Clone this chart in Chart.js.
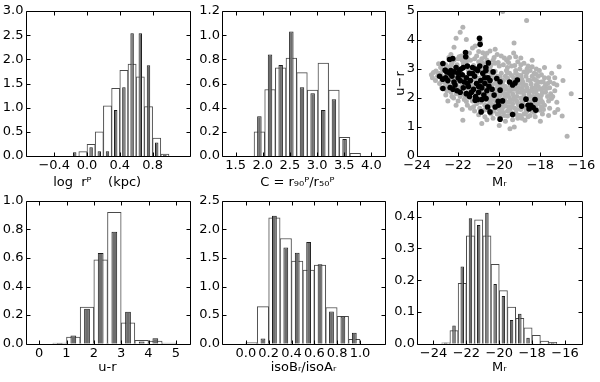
<!DOCTYPE html>
<html>
<head>
<meta charset="utf-8">
<script src="https://cdn.jsdelivr.net/npm/chart.js@4.4.0/dist/chart.umd.min.js"></script>
<style>
body{margin:0;background:#fff;width:600px;height:382px;position:relative;overflow:hidden}
canvas{position:absolute}
</style>
</head>
<body>
<canvas id="p1" width="200" height="191" style="left:0;top:0"></canvas>
<canvas id="p2" width="210" height="191" style="left:190px;top:0"></canvas>
<canvas id="p3" width="215" height="191" style="left:385px;top:0"></canvas>
<canvas id="p4" width="200" height="191" style="left:0;top:191px"></canvas>
<canvas id="p5" width="210" height="191" style="left:190px;top:191px"></canvas>
<canvas id="p6" width="215" height="191" style="left:385px;top:191px"></canvas>
<script>
// log r^P histogram
const rBins  = [-0.15,-0.05,0.05,0.15,0.25,0.35,0.45,0.55,0.65,0.75,0.85,0.95];
const rWhite = [0,0.09,0.24,0.5,1.04,1.4,1.77,1.9,1.64,1.02,0.37,0.04];
const rGray  = [0.08,0,0.18,0.1,0.1,0.95,1.42,2.54,2.54,1.88,0.28,0.02];
const rXTicks = [-0.4,0.0,0.4,0.8];
const rYTicks = [0,0.5,1.0,1.5,2.0,2.5,3.0];

// concentration histogram
const cBins  = [1.938,2.134,2.33,2.526,2.722,2.918,3.114,3.31,3.506,3.702];
const cWhite = [0.2,0.55,0.73,0.81,0.69,0.546,0.77,0.546,0.155,0.022];
const cGray  = [0.33,0.84,0.753,1.03,0.57,0.52,0.38,0.47,0.14,0];
const cXTicks = [1.5,2.0,2.5,3.0,3.5,4.0];
const cYTicks = [0,0.2,0.4,0.6,0.8,1.0,1.2];

// colour-magnitude scatter
const cmGray = [
[-19.83,4.98],[-18.67,4.67],[-21.77,4.44],[-21.9,4.27],[-22.1,4.06],[-21.6,4.02],[-20.93,3.97],[-21.17,3.79],
[-21.3,3.72],[-21.0,3.6],[-20.8,3.56],[-20.6,3.54],[-20.2,3.68],[-20.1,3.5],[-19.28,3.9],[-19.64,3.3],
[-19.9,3.45],[-20.45,3.62],[-21.45,3.55],[-22.2,3.75],[-22.35,3.5],[-21.85,3.45],[-20.7,3.42],[-19.5,3.4],
[-19.1,3.25],[-18.8,3.2],[-19.3,3.55],[-20.3,3.3],
[-23.08,2.93],[-22.95,2.85],[-23.2,2.88],[-22.85,3.05],[-22.7,2.7],[-22.6,3.15],[-22.45,3.05],[-22.8,2.6],
[-22.5,2.5],[-22.65,2.4],[-22.3,3.2],[-22.2,3.3],[-22.0,3.35],[-21.8,3.3],[-21.6,3.25],[-21.4,3.3],
[-21.2,3.35],[-21.0,3.25],[-20.8,3.2],[-20.6,3.3],[-20.4,3.15],[-20.2,3.2],[-20.0,3.1],[-19.8,3.15],
[-19.6,3.05],[-19.4,3.1],[-19.2,2.95],[-19.0,3.0],[-18.8,2.9],[-18.5,2.95],[-18.3,2.85],[-18.1,2.75],
[-17.86,2.56],[-17.54,2.56],[-17.7,2.33],[-17.46,1.98],[-17.09,3.08],[-17.9,2.2],[-17.3,2.25],[-17.65,2.05],
[-22.22,2.0],[-22.35,2.2],[-22.1,2.15],[-21.9,2.05],[-21.7,1.95],[-21.5,2.1],[-21.3,1.9],[-21.1,1.8],
[-20.9,1.85],[-20.7,1.75],[-21.4,1.65],[-21.77,1.23],[-20.85,1.12],[-21.2,1.55],[-20.6,1.6],[-20.4,1.45],
[-20.3,1.3],[-19.96,1.35],[-19.7,1.2],[-19.48,0.94],[-19.27,1.0],[-19.1,1.3],[-18.75,1.23],[-18.5,1.4],
[-18.3,1.5],[-18.02,1.58],[-17.6,1.4],[-16.94,1.38],[-16.7,0.68],[-17.8,1.75],[-18.1,1.8],
[-21.9,2.9],[-21.7,2.75],[-21.5,2.95],[-21.3,2.65],[-21.1,2.85],[-20.9,2.7],[-20.7,2.8],[-20.5,2.9],
[-20.3,2.7],[-21.8,2.45],[-21.6,2.35],[-21.4,2.5],[-21.2,2.4],[-21.0,2.55],[-20.8,2.45],[-20.6,2.55],
[-20.4,2.35],[-22.0,2.55],[-21.95,2.3],[-21.75,2.15],[-21.55,2.2],[-21.35,2.35],[-21.15,2.2],[-20.95,2.3],
[-20.75,2.2],[-20.55,2.1],[-20.35,2.2],[-22.4,2.75],[-22.25,2.6],[-22.1,2.8],
[-20.2,2.5],[-20.1,2.35],[-20.0,2.45],[-19.9,2.2],[-19.8,2.6],[-19.7,2.4],[-19.6,2.15],[-19.5,2.55],
[-19.4,2.3],[-19.3,2.05],[-19.2,2.4],[-19.1,2.2],[-19.0,2.5],[-18.9,2.3],[-18.8,2.1],[-18.7,2.45],
[-18.6,2.25],[-18.5,2.05],[-18.4,2.35],[-18.3,2.2],[-18.2,2.45],
[-20.25,2.0],[-20.15,1.85],[-20.05,2.1],[-19.95,1.95],[-19.85,1.8],[-19.75,2.0],[-19.65,1.85],[-19.55,1.7],
[-19.45,1.95],[-19.35,1.8],[-19.25,1.65],[-19.15,1.9],[-19.05,1.75],[-18.95,1.6],[-18.85,1.85],[-18.75,1.7],
[-18.65,1.55],[-18.55,1.8],[-18.45,1.65],
[-20.3,2.85],[-20.1,2.75],[-19.9,2.85],[-19.7,2.75],[-19.5,2.85],[-19.3,2.7],[-19.1,2.8],[-18.9,2.65],
[-18.7,2.75],[-18.5,2.6],[-18.3,2.65],[-18.1,2.55],
[-20.2,1.7],[-20.0,1.6],[-19.8,1.5],[-19.6,1.55],[-19.4,1.45],[-19.2,1.5],[-19.0,1.4],[-18.8,1.45],
[-19.9,1.65],[-19.5,1.6],
[-18.0,2.3],[-18.0,2.0],[-17.95,1.9],[-18.15,2.1],[-17.75,2.45],[-17.5,2.15],[-17.2,1.85],[-17.35,2.5],
[-22.9,2.5],[-23.0,2.75],[-22.55,2.25],[-22.75,2.95],[-20.9,3.05],[-21.7,3.1],[-19.65,2.95],[-18.6,3.1],
[-18.2,3.0],[-17.95,2.8],[-17.6,2.7],[-20.5,1.95],[-20.65,2.35],[-20.45,2.6],[-20.35,2.45],[-19.75,2.3],
[-19.55,2.05],[-19.35,2.55],[-19.15,2.65],[-18.95,2.0],[-18.75,1.95],[-18.35,1.9],[-18.25,1.75],[-17.85,1.6],
[-18.4,1.55],[-18.6,1.35],[-19.35,1.25],[-19.75,1.4],[-20.1,1.45],[-20.55,1.75],[-21.0,2.05],[-21.25,2.7],
[-21.45,2.8],[-21.65,2.6],[-21.85,2.7],[-22.05,2.4],[-22.45,2.9],
[-22.45,3.4],[-21.95,3.42],[-21.55,3.38],[-21.1,3.45],[-20.85,3.35],[-20.25,3.4],[-19.75,3.38],[-19.2,3.42],
[-18.95,3.38],[-18.4,3.3],
[-22.95,3.18],[-22.35,3.12],[-22.05,3.15],[-21.75,3.18],[-21.25,3.12],[-20.75,3.08],[-20.45,3.05],[-20.05,3.22],
[-19.55,3.22],[-19.25,3.12],[-18.95,3.15],[-18.65,3.0],[-18.4,3.08],[-18.05,2.95],[-17.8,3.05],[-17.45,2.85],
[-23.3,2.8],[-22.85,2.82],[-22.6,2.78],[-22.15,2.68],[-21.95,2.82],[-21.55,2.72],[-21.15,2.62],[-20.85,2.92],
[-20.6,2.72],[-20.2,2.92],[-19.95,2.72],[-19.6,2.88],[-19.4,2.78],[-19.2,2.85],[-18.95,2.78],[-18.65,2.88],
[-18.4,2.75],[-18.2,2.82],[-17.8,2.7],[-17.3,2.7],
[-23.1,2.6],[-22.7,2.55],[-22.35,2.45],[-21.95,2.62],[-21.45,2.58],[-21.05,2.68],[-20.75,2.62],[-20.4,2.75],
[-20.15,2.6],[-19.85,2.5],[-19.6,2.68],[-19.45,2.45],[-19.25,2.58],[-19.05,2.68],[-18.85,2.55],[-18.6,2.62],
[-18.45,2.48],[-18.2,2.6],[-17.95,2.55],[-17.65,2.5],[-17.2,2.45],
[-22.8,2.35],[-22.45,2.3],[-22.2,2.35],[-21.85,2.38],[-21.5,2.28],[-21.3,2.45],[-20.9,2.45],[-20.55,2.4],
[-20.25,2.3],[-20.05,2.4],[-19.85,2.38],[-19.65,2.3],[-19.45,2.4],[-19.25,2.3],[-19.05,2.35],[-18.85,2.42],
[-18.65,2.35],[-18.45,2.25],[-18.25,2.35],[-18.1,2.4],[-17.85,2.35],[-17.55,2.35],
[-22.6,2.1],[-22.3,2.05],[-22.0,2.2],[-21.65,2.05],[-21.4,2.15],[-21.05,2.15],[-20.85,2.2],[-20.45,2.05],
[-20.2,2.2],[-19.95,2.1],[-19.75,2.15],[-19.5,2.25],[-19.35,2.15],[-19.15,2.05],[-18.95,2.2],[-18.75,2.25],
[-18.55,2.15],[-18.35,2.05],[-18.2,2.25],[-17.95,2.1],[-17.75,2.2],[-17.4,2.05],
[-22.0,1.9],[-21.6,1.88],[-21.35,2.0],[-21.0,1.95],[-20.7,1.92],[-20.45,1.85],[-20.3,1.95],[-20.1,1.98],
[-19.9,1.88],[-19.7,1.9],[-19.5,1.85],[-19.3,1.95],[-19.1,1.82],[-18.9,1.9],[-18.65,1.95],[-18.45,1.88],
[-18.15,1.95],[-17.9,1.85],[-17.6,1.9],
[-21.55,1.75],[-21.25,1.7],[-20.95,1.65],[-20.75,1.58],[-20.5,1.68],[-20.35,1.78],[-20.05,1.78],[-19.85,1.65],
[-19.7,1.72],[-19.4,1.68],[-19.15,1.6],[-18.95,1.75],[-18.7,1.62],[-18.4,1.75],[-18.2,1.65],[-17.95,1.7],
[-17.55,1.65],
[-21.0,1.42],[-20.7,1.35],[-20.25,1.55],[-19.95,1.5],[-19.6,1.38],[-19.45,1.52],[-19.15,1.42],[-18.9,1.3],
[-18.7,1.5],[-18.25,1.35],[-17.9,1.45],[-17.3,1.5],
[-22.1,1.75],[-21.8,1.6],[-22.5,1.9],[-23.25,2.7],[-16.5,2.15],[-16.9,2.6],[-17.15,1.6],[-18.0,1.2],
[-20.0,1.05],[-20.6,1.25]
];
const cmBlack = [
[-22.9,2.75],[-22.74,3.19],[-22.63,2.96],[-22.42,3.33],[-22.26,3.36],[-22.39,2.36],[-21.64,3.57],[-21.63,3.42],
[-20.96,4.06],[-20.93,3.85],[-20.53,3.21],
[-22.4,2.85],[-22.3,2.75],[-22.2,2.9],[-22.1,3.05],[-22.0,2.7],[-21.9,2.6],[-21.85,3.0],[-21.8,2.8],
[-21.7,2.55],[-21.6,2.7],[-21.55,3.1],[-21.5,2.4],[-21.45,2.85],[-21.4,2.6],[-21.3,3.05],[-21.25,2.3],
[-21.2,2.75],[-21.1,2.5],[-21.05,2.95],[-21.0,2.2],[-20.95,3.1],[-20.9,2.6],[-20.85,2.35],[-20.8,2.85],
[-20.75,2.1],[-20.7,2.5],[-20.65,2.95],[-20.6,2.25],[-20.55,2.7],[-20.5,2.4],[-20.45,2.6],[-22.15,2.45],
[-22.05,2.25],[-21.95,2.95],[-21.75,2.35],[-21.35,2.2],[-21.15,2.05],[-20.85,1.95],[-22.5,2.6],[-22.55,2.9],
[-20.12,2.67],[-19.96,2.56],[-20.25,2.1],[-20.04,1.75],[-20.2,1.69],[-20.45,1.52],[-19.96,1.27],[-19.35,1.43],
[-19.23,2.52],[-19.12,2.62],[-19.35,2.45],[-18.26,1.95],[-18.7,1.96],[-18.6,1.75],[-18.91,1.72],[-18.47,1.75],
[-18.35,1.67],[-18.22,1.58],[-21.17,1.92],[-20.64,1.98],[-20.57,1.69],[-20.88,1.52],[-22.74,2.33],[-19.96,2.27],
[-20.05,1.89],[-19.84,1.9],[-21.0,2.4],[-20.3,2.9],[-21.6,2.15],[-22.2,2.55],
[-22.6,2.7],[-22.35,2.95],[-22.0,2.85],[-21.75,3.05],[-21.55,2.5],[-21.3,2.85],[-21.15,3.0],[-20.95,2.4],
[-20.7,2.7],[-20.65,3.05],[-22.25,2.3],[-21.9,2.2],[-21.45,2.05],[-20.35,2.3],[-22.75,2.65],[-21.05,1.95],
[-19.5,2.55],[-18.55,1.62]
];
const cmXTicks = [-24,-22,-20,-18,-16];
const cmYTicks = [0,1,2,3,4,5];

// u-r histogram
const urBins  = [0.75,1.25,1.75,2.25,2.75,3.25,3.75,4.25,4.75];
const urWhite = [0.005,0.046,0.256,0.587,0.92,0.146,0.023,0.018,0.005];
const urGray  = [0.005,0.057,0.244,0.635,0.783,0.224,0.016,0.038,0];
const urXTicks = [0,1,2,3,4,5];
const urYTicks = [0,0.2,0.4,0.6,0.8,1.0];

// axis ratio histogram
const baBins  = [0.05,0.15,0.25,0.35,0.45,0.55,0.65,0.75,0.85,0.95];
const baWhite = [0.02,0.65,2.2,1.84,1.445,1.29,1.376,0.634,0.48,0.075];
const baGray  = [0,0.09,2.24,1.685,1.59,1.78,1.39,0.565,0.475,0.19];
const baXTicks = [0.0,0.2,0.4,0.6,0.8,1.0];
const baYTicks = [0,0.5,1.0,1.5,2.0,2.5];

// absolute magnitude histogram
const mBins  = [-23.25,-22.75,-22.25,-21.75,-21.25,-20.75,-20.25,-19.75,-19.25,-18.75,-18.25,-17.75,-17.25,-16.75];
const mWhite = [0.003,0.041,0.19,0.34,0.39,0.34,0.25,0.167,0.115,0.08,0.05,0.026,0.008,0.004];
const mGray  = [0.003,0.057,0.243,0.395,0.374,0.412,0.188,0.15,0.075,0.094,0.019,0,0,0.003];
const mXTicks = [-24,-22,-20,-18,-16];
const mYTicks = [0,0.1,0.2,0.3,0.4];

Chart.defaults.font.family = 'DejaVu Sans';
Chart.defaults.font.size = 13;
Chart.defaults.color = '#000';

function fmt(v, dec){
  return v.toFixed(dec).replace('-', '\u2212');
}

// frame and inward ticks on all four sides, like matplotlib
const framePlugin = {
  id: 'frame',
  afterDatasetsDraw(chart){
    const ctx = chart.ctx, a = chart.chartArea;
    const x = chart.scales.x, y = chart.scales.y;
    const L = Math.round(a.left)+0.5, R = Math.round(a.right)+0.5;
    const T = Math.round(a.top)+0.5, B = Math.round(a.bottom)+0.5;
    ctx.save();
    ctx.strokeStyle = '#000';
    ctx.lineWidth = 1;
    ctx.beginPath();
    ctx.rect(L, T, R-L, B-T);
    x.ticks.forEach(t => {
      const p = Math.round(x.getPixelForValue(t.value))+0.5;
      ctx.moveTo(p, B); ctx.lineTo(p, B-4);
      ctx.moveTo(p, T); ctx.lineTo(p, T+4);
    });
    y.ticks.forEach(t => {
      const p = Math.round(y.getPixelForValue(t.value))+0.5;
      ctx.moveTo(L, p); ctx.lineTo(L+4, p);
      ctx.moveTo(R, p); ctx.lineTo(R-4, p);
    });
    ctx.stroke();
    ctx.restore();
  }
};

function axis(min, max, ticks, dec, fitSize, isX, title, titlePad){
  const o = {
    type: 'linear',
    min: min, max: max,
    grid: {display:false, drawTicks:false},
    border: {display:false},
    ticks: {padding:2, autoSkip:false, maxRotation:0, font:{size:13}, callback: v => fmt(v, dec)},
    afterBuildTicks: s => { s.ticks = ticks.map(v => ({value:v})); },
    afterFit: s => { if(isX) s.height = fitSize; else s.width = fitSize; }
  };
  if(title){
    o.title = {display:true, text:title, padding: titlePad, font:{size:13}};
  }
  return o;
}

function histChart(id, pad, yW, xH, bins, white, gray, xr, yr, xTicks, yTicks, xDec, yDec, xLabel, tPad){
  new Chart(document.getElementById(id), {
    type: 'bar',
    data: {
      datasets: [{
        data: bins.map((b,i) => ({x:b, y:gray[i]})),
        backgroundColor: '#6e6e6e',
        borderColor: '#1e1e1e',
        borderWidth: 1,
        grouped: false,
        barPercentage: 0.42,
        categoryPercentage: 1
      },{
        data: bins.map((b,i) => ({x:b, y:white[i]})),
        backgroundColor: '#ffffff',
        borderColor: '#4a4a4a',
        borderWidth: 1,
        grouped: false,
        barPercentage: 1,
        categoryPercentage: 1
      }]
    },
    options: {
      responsive:false, animation:false, devicePixelRatio:1,
      layout: {padding: pad},
      plugins: {legend:{display:false}, tooltip:{enabled:false}},
      scales: {
        x: axis(xr[0], xr[1], xTicks, xDec, xH, true, xLabel, {top:0, bottom:tPad}),
        y: axis(yr[0], yr[1], yTicks, yDec, yW, false)
      }
    },
    plugins: [framePlugin]
  });
}

histChart('p1', {left:0,top:11,right:10.5,bottom:0}, 25.5, 35, rBins, rWhite, rGray,
  [-0.5,1.0], [0,3.0], rXTicks, rYTicks, 1, 1, 'log  r\u1D3E    (kpc)     ', 1);
histChart('p2', {left:0,top:11,right:15,bottom:0}, 32, 35, cBins, cWhite, cGray,
  [1.5,4.0], [0,1.2], cXTicks, cYTicks, 1, 1, 'C = r\u2089\u2080\u1D3E/r\u2085\u2080\u1D3E   ', 1);
histChart('p4', {left:0,top:6.7,right:10.5,bottom:0}, 25.5, 38.3, urBins, urWhite, urGray,
  [0,5], [0,1.0], urXTicks, urYTicks, 0, 1, 'u-r', 7);
histChart('p5', {left:0,top:6.7,right:15,bottom:0}, 32, 38.3, baBins, baWhite, baGray,
  [-0.09,1.1], [0,2.5], baXTicks, baYTicks, 1, 1, 'isoB\u1D63/isoA\u1D63', 7);
histChart('p6', {left:0,top:6.7,right:18.5,bottom:0}, 32, 38.3, mBins, mWhite, mGray,
  [-24,-16], [0,0.45], mXTicks, mYTicks, 0, 1, 'M\u1D63', 7);

new Chart(document.getElementById('p3'), {
  type: 'scatter',
  data: {
    datasets: [{
      data: cmBlack.map(p => ({x:p[0], y:p[1]})),
      backgroundColor: '#000',
      borderWidth: 0,
      pointRadius: 2.8
    },{
      data: cmGray.map(p => ({x:p[0], y:p[1]})),
      backgroundColor: '#b3b3b3',
      borderWidth: 0,
      pointRadius: 2.5
    }]
  },
  options: {
    responsive:false, animation:false, devicePixelRatio:1,
    layout: {padding: {left:8,top:11,right:18.5,bottom:0}},
    plugins: {legend:{display:false}, tooltip:{enabled:false}},
    scales: {
      x: axis(-24, -16, cmXTicks, 0, 35, true, 'M\u1D63', {top:0, bottom:1}),
      y: axis(0, 5, cmYTicks, 0, 24, false, 'u\u2212r', {top:0, bottom:0})
    }
  },
  plugins: [framePlugin]
});
</script>
</body>
</html>
